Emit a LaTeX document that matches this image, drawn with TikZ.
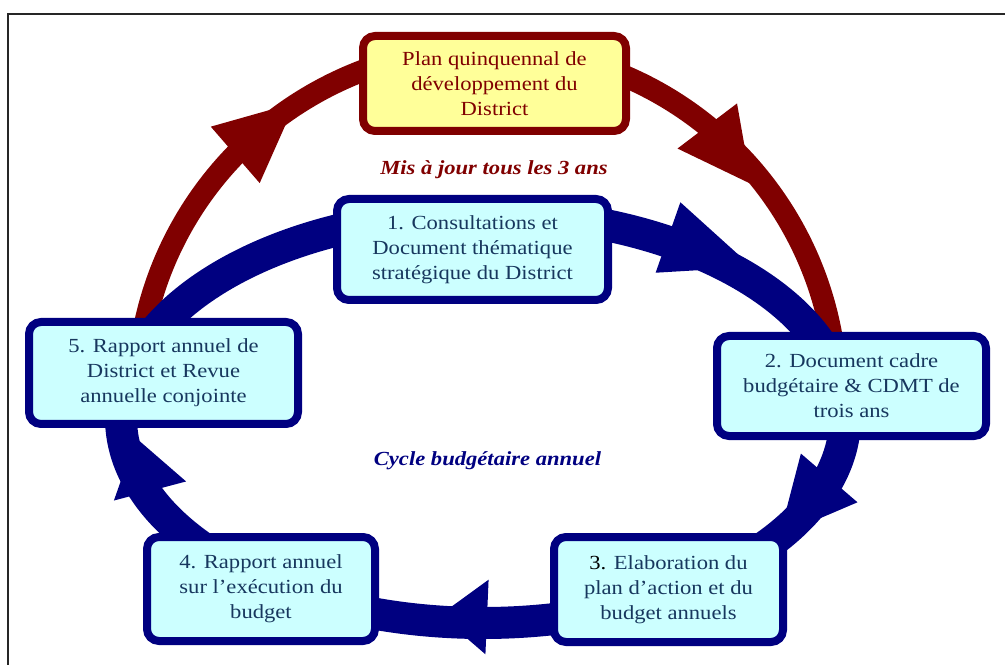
\documentclass[tikz,border=0pt]{standalone}
\usepackage{fontspec}
\setmainfont[FakeStretch=1.13]{Liberation Serif}
\usetikzlibrary{calc}
\definecolor{navyb}{HTML}{000080}
\definecolor{darkred}{HTML}{800000}
\definecolor{cyanfill}{HTML}{CCFFFF}
\definecolor{yelfill}{HTML}{FFFF99}
\definecolor{txtblue}{HTML}{17375E}
\begin{document}
\begin{tikzpicture}[x=0.75pt,y=0.75pt,
  boxbase/.style={line width=6pt, rounded corners=9pt, align=center, inner sep=0pt,
    font=\fontsize{15}{18.75}\selectfont},
  cbox/.style={boxbase, draw=navyb, fill=cyanfill, text=txtblue},
  ybox/.style={boxbase, draw=darkred, fill=yelfill, text=darkred},
  redband/.style={draw=darkred, line width=16.5pt},
  blueband/.style={draw=navyb, line width=24pt},
  cyclabel/.style={font=\bfseries\itshape\fontsize{15}{18}\selectfont, anchor=base}
]
\useasboundingbox (0,0) rectangle (1005,664);
% frame
\draw[line width=1.5pt, black!85] (8,-2) -- (8,650) -- (1007,650);

% red arc (five-year cycle)
\coordinate (rc) at (487,266);
\draw[redband] ($(rc)+(170:350)$) arc[start angle=170, end angle=8, radius=350];
\coordinate (rb1) at ($(rc)+(136:350)$);
\coordinate (rt1) at ($(rc)+(123:352)$);
\fill[darkred] ($(rb1)!28pt!90:(rt1)$) -- (rt1) -- ($(rb1)!28pt!-90:(rt1)$) -- cycle;
\coordinate (rb2) at ($(rc)+(51:350)$);
\coordinate (rt2) at ($(rc)+(39:340)$);
\fill[darkred] ($(rb2)!28pt!90:(rt2)$) -- (rt2) -- ($(rb2)!28pt!-90:(rt2)$) -- cycle;

% blue ellipse (annual cycle)
\draw[blueband] (483,246) ellipse [x radius=362, y radius=205];
\coordinate (bb1) at (668,426.5);
\coordinate (bt1) at (752,397);
\coordinate (bb2) at ({483+362*cos(-17)},{246+205*sin(-17)});
\coordinate (bt2) at ({483+362*cos(-35)},{246+205*sin(-35)});
\coordinate (bb3) at (487,47);
\coordinate (bt3) at (440,49);
\coordinate (bb4) at (150,173);
\coordinate (bt4) at (136,226);
\foreach \i in {1,2,3,4}{
  \fill[navyb] ($(bb\i)!28pt!90:(bt\i)$) -- (bt\i) -- ($(bb\i)!28pt!-90:(bt\i)$) -- cycle;
}

% boxes
\node[ybox, minimum width=197.25pt, minimum height=71.25pt] (plan) at (494.5,580.5)
  {Plan quinquennal de\\développement du\\District};
\node[cbox, minimum width=203.25pt, minimum height=75.75pt] (s1) at (472.5,414.5)
  {1. Consultations et\\Document thématique\\stratégique du District};
\node[cbox, minimum width=201.75pt, minimum height=75pt] (s2) at (851.5,278)
  {2. Document cadre\\budgétaire \& CDMT de\\trois ans};
\node[cbox, minimum width=171.75pt, minimum height=78.75pt] (s3) at (668.5,74.5)
  {\textcolor{black}{3.} Elaboration du\\plan d’action et du\\budget annuels};
\node[cbox, minimum width=171pt, minimum height=78pt] (s4) at (261,75)
  {4. Rapport annuel\\sur l’exécution du\\budget};
\node[cbox, minimum width=201.75pt, minimum height=76.5pt] (s5) at (163.5,291)
  {5. Rapport annuel de\\District et Revue\\annuelle conjointe};

% labels
\node[cyclabel, text=darkred] (lbl1) at (494,489) {Mis à jour tous les 3 ans};
\node[cyclabel, text=navyb] (lbl2) at (487.5,199) {Cycle budgétaire annuel};
\end{tikzpicture}
\end{document}
